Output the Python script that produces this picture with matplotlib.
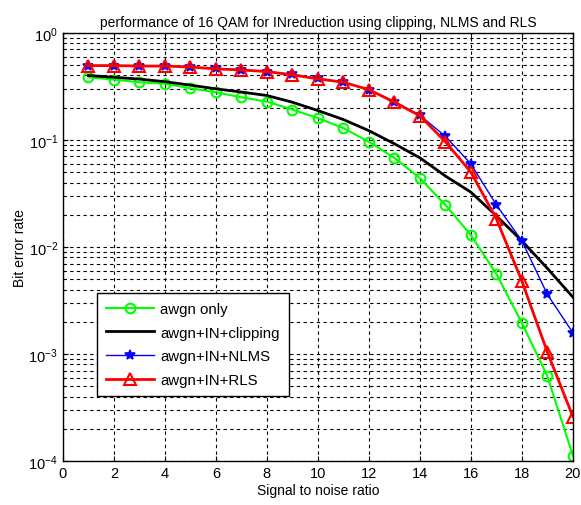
import numpy as np
import matplotlib
matplotlib.use('Agg')
import matplotlib.pyplot as plt
from matplotlib.ticker import LogLocator, NullFormatter

plt.rcParams['font.family'] = ['Liberation Sans', 'DejaVu Sans']

# SNR points
snr = np.arange(1, 21)

# bit error rate
ber_awgn = [0.385, 0.366, 0.346, 0.335, 0.304, 0.279, 0.25, 0.228, 0.192, 0.16,
            0.129, 0.096, 0.068, 0.044, 0.0247, 0.0129, 0.0056, 0.00195, 0.00062, 0.000112]
ber_clip = [0.40, 0.385, 0.37, 0.35, 0.325, 0.30, 0.28, 0.26, 0.225, 0.188,
            0.155, 0.122, 0.092, 0.068, 0.046, 0.0325, 0.0195, 0.0114, 0.0063, 0.0034]
ber_nlms = [0.49, 0.49, 0.49, 0.49, 0.48, 0.465, 0.455, 0.435, 0.41, 0.375,
            0.345, 0.295, 0.228, 0.17, 0.108, 0.0597, 0.0247, 0.0114, 0.0036, 0.00158]
ber_rls = [0.495, 0.495, 0.49, 0.49, 0.48, 0.461, 0.45, 0.435, 0.405, 0.372,
           0.346, 0.295, 0.225, 0.168, 0.096, 0.05, 0.0183, 0.0048, 0.00104, 0.00026]

labels = ['awgn only', 'awgn+IN+clipping', 'awgn+IN+NLMS', 'awgn+IN+RLS']

fig = plt.figure(figsize=(5.81, 5.06), dpi=100)
ax = fig.add_axes([0.1084, 0.087, 0.8776, 0.846])

ax.semilogy(snr, ber_awgn, '-o', color='#00ff00', lw=1.5, ms=7, mfc='none', mew=1.5, label=labels[0])
ax.semilogy(snr, ber_clip, '-', color='black', lw=2, label=labels[1])
ax.semilogy(snr, ber_nlms, '-*', color='blue', lw=1, ms=7, mew=1.2, label=labels[2])
ax.semilogy(snr, ber_rls, '-^', color='red', lw=2, ms=8, mfc='none', mew=1.5, label=labels[3])

ax.set_xlim(0, 20)
ax.set_ylim(1e-4, 1)
ax.set_xticks(range(0, 21, 2))
ax.yaxis.set_major_locator(LogLocator(base=10, numticks=10))
ax.yaxis.set_minor_locator(LogLocator(base=10, subs=np.arange(2, 10), numticks=50))
ax.yaxis.set_minor_formatter(NullFormatter())

ax.grid(True, which='major', axis='both', color='black', ls=(0, (3, 3)), lw=0.8)
ax.grid(True, which='minor', axis='y', color='black', ls=(0, (3, 3)), lw=0.8)
ax.tick_params(which='both', direction='in', top=True, right=True, labelsize=10.5)
for s in ax.spines.values():
    s.set_linewidth(1.0)

ax.set_title('performance of 16 QAM for INreduction using clipping, NLMS and RLS', fontsize=10, pad=5)
ax.set_xlabel('Signal to noise ratio', fontsize=10, labelpad=2)
ax.set_ylabel('Bit error rate', fontsize=10, labelpad=1)

leg = ax.legend(loc='upper left', bbox_to_anchor=(0.067, 0.3925), borderaxespad=0,
                fancybox=False, edgecolor='black', framealpha=1, fontsize=10.8,
                handlelength=3.2, handletextpad=0.4, labelspacing=0.65,
                borderpad=0.6)
leg.get_frame().set_linewidth(1.0)

fig.savefig('out.png', dpi=100)
